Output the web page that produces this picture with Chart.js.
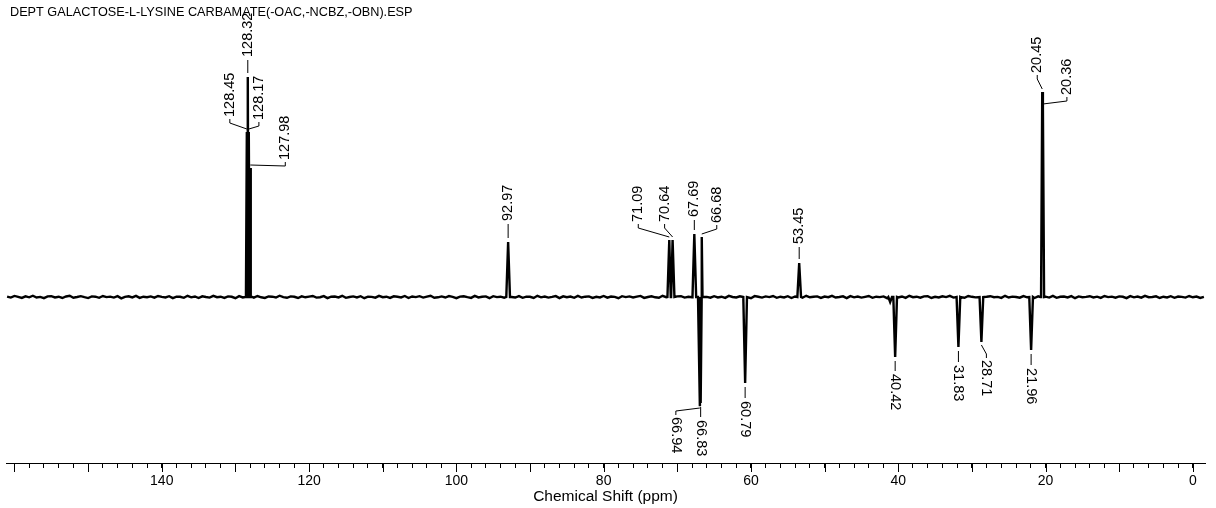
<!DOCTYPE html>
<html>
<head>
<meta charset="utf-8">
<script src="https://cdn.jsdelivr.net/npm/chart.js@4.4.1/dist/chart.umd.min.js"></script>
<style>
  html, body { margin: 0; padding: 0; background: #fff; }
  #wrap { width: 1216px; height: 508px; }
</style>
</head>
<body>
<div id="wrap"><canvas id="spectrum" width="1216" height="508"></canvas></div>
<script>
const chartTitle = 'DEPT GALACTOSE-L-LYSINE CARBAMATE(-OAC,-NCBZ,-OBN).ESP';
const axisTitle = 'Chemical Shift (ppm)';

// picked peaks (ppm) and their heights; negative = CH2 pointing down
const peakShifts  = [128.45, 128.32, 128.17, 127.98, 92.97, 71.09, 70.64, 67.69, 66.94, 66.83, 66.68, 60.79, 53.45, 40.42, 31.83, 28.71, 21.96, 20.45, 20.36];
const peakHeights = [165, 220, 165, 129, 55, 57, 57, 63, -108, -106, 60, -86, 34, -60, -50, -45, -53, 205, 190];
const peakLabels  = ['128.45', '128.32', '128.17', '127.98', '92.97', '71.09', '70.64', '67.69', '66.94', '66.83', '66.68', '60.79', '53.45', '40.42', '31.83', '28.71', '21.96', '20.45', '20.36'];

// small unlabelled dip next to 40.42
const minorShifts = [41.1];
const minorHeights = [-5];

// baseline noise read every 0.5 ppm, from 161 ppm down to -1.5 ppm
const noiseStart = 161;
const noiseStep = 0.5;
const noise = [
  0.4,-0.6,1.1,0.2,-0.9,0.7,-0.3,1.3,-0.5,0.1,-1.2,0.6,0.9,-0.4,0.3,-1.0,0.5,1.2,-0.7,0.0,
  0.8,-0.2,-1.1,0.6,0.3,-0.8,1.0,-0.1,0.4,-0.6,0.9,-1.3,0.2,0.7,-0.4,1.1,-0.9,0.3,-0.2,0.6,
  -0.7,1.0,0.1,-0.5,0.8,-1.1,0.4,0.2,-0.8,1.2,-0.3,0.5,-1.0,0.7,0.0,-0.6,1.1,-0.2,0.3,-0.9,
  0.6,0.2,-1.2,0.9,-0.4,0.1,0.8,-0.7,1.0,-0.3,-0.9,0.5,0.3,-0.5,1.3,-0.1,-0.8,0.6,0.2,-1.0,
  0.7,-0.3,0.4,1.0,-0.6,-0.2,0.9,-1.1,0.3,0.5,-0.4,1.2,-0.8,0.0,0.6,-0.5,0.8,-1.2,0.4,0.1,
  -0.7,1.1,-0.2,0.3,-0.9,0.7,0.2,-0.4,1.0,-1.0,0.5,-0.1,0.8,-0.6,0.3,1.2,-0.8,-0.3,0.6,-0.5,
  0.9,0.1,-1.1,0.4,0.7,-0.2,-0.9,1.1,-0.4,0.2,0.6,-1.2,0.8,-0.1,0.3,-0.7,1.0,0.0,-0.5,0.9,
  -0.8,0.4,0.2,-1.0,1.2,-0.3,0.5,-0.6,0.1,0.9,-1.1,0.7,-0.2,0.4,-0.8,1.1,-0.5,0.3,0.6,-0.9,
  0.2,-0.4,1.0,-0.7,0.5,0.1,-1.2,0.8,-0.1,0.6,-0.5,0.3,1.1,-0.9,0.0,0.7,-0.3,-0.8,1.2,-0.2,
  0.4,-1.0,0.6,0.9,-0.6,0.2,-0.3,1.0,-1.1,0.5,0.1,-0.7,0.8,-0.4,0.3,-0.9,1.1,0.0,-0.5,0.7,
  -0.2,0.4,-1.2,0.9,0.2,-0.6,0.6,-0.1,1.0,-0.8,0.3,-0.4,0.8,-1.0,0.5,0.1,-0.7,1.2,-0.3,0.2,
  0.6,-0.9,0.4,-0.2,1.1,-0.5,0.0,0.7,-1.1,0.9,-0.3,0.5,-0.6,0.2,1.0,-0.8,0.3,-0.1,0.6,-1.2,
  0.8,0.1,-0.4,0.5,-0.9,1.2,-0.2,0.3,-0.7,0.6,0.9,-1.0,0.2,-0.5,0.7,-0.1,1.1,-0.6,0.4,-0.3,
  -0.8,1.0,0.2,-0.4,0.6,-1.1,0.3,0.8,-0.2,0.1,-0.9,1.2,-0.5,0.4,0.0,-0.7,0.9,-0.3,0.5,-1.0,
  0.7,-0.1,0.3,-0.6,1.1,-0.8,0.2,0.5,-0.4,0.9,-1.2,0.6,-0.2,0.1,0.8,-0.5,0.3,-0.9,1.0,-0.1,
  0.4,-0.7,0.6,0.2,-1.1,0.9,-0.3,0.5,-0.6,1.2,-0.2,0.0,0.7,-1.0,0.3,-0.4,0.8,-0.8,0.5,0.1,
  -0.6,1.0,-0.3,0.4,-0.9,0.2
];

const xMin = -1.65;
const xMax = 161.15;
const tickStep = 2;
const labelEvery = 20;
const lastLabel = 140;

// where each peak label sits relative to its peak: dx sideways, gap between peak tip and text (px)
const labelLayout = {
  '128.45': { dx: -17, gap: 15 },
  '128.32': { dx: 0, gap: 20 },
  '128.17': { dx: 10, gap: 12 },
  '127.98': { dx: 35, gap: 8 },
  '92.97': { dx: 0, gap: 21 },
  '71.09': { dx: -31, gap: 18 },
  '70.64': { dx: -8, gap: 18 },
  '67.69': { dx: 0, gap: 17 },
  '66.68': { dx: 15, gap: 14 },
  '53.45': { dx: 0, gap: 19 },
  '20.45': { dx: -5, gap: 19 },
  '20.36': { dx: 24, gap: 12 },
  '66.94': { dx: -24, gap: 12 },
  '66.83': { dx: 0, gap: 17 },
  '60.79': { dx: 0, gap: 18 },
  '40.42': { dx: 0, gap: 17 },
  '31.83': { dx: 0, gap: 18 },
  '28.71': { dx: 5, gap: 18 },
  '21.96': { dx: 0, gap: 18 }
};

const fontFamily = 'Arial, "Liberation Sans", sans-serif';

function buildSpectrum() {
  const halfWidth = 0.25;
  const peaks = peakShifts.map((s, i) => [s, peakHeights[i]])
    .concat(minorShifts.map((s, i) => [s, minorHeights[i]]));
  const pts = [];
  noise.forEach((v, i) => {
    const ppm = noiseStart - i * noiseStep;
    if (peaks.some(p => Math.abs(p[0] - ppm) < halfWidth + 0.05)) return;
    pts.push({ x: ppm, y: v });
  });
  peaks.forEach(p => {
    pts.push({ x: p[0] + halfWidth, y: 0 }, { x: p[0], y: p[1] }, { x: p[0] - halfWidth, y: 0 });
  });
  pts.sort((a, b) => b.x - a.x);
  return pts;
}

const titlePlugin = {
  id: 'specTitle',
  afterDraw(chart) {
    const ctx = chart.ctx;
    ctx.save();
    ctx.fillStyle = '#000';
    ctx.font = '12.7px ' + fontFamily;
    ctx.textBaseline = 'middle';
    ctx.textAlign = 'left';
    ctx.fillText(chartTitle, 10, 12);
    ctx.restore();
  }
};

const majorTickPlugin = {
  id: 'majorTicks',
  afterDraw(chart) {
    const sx = chart.scales.x;
    const ctx = chart.ctx;
    ctx.save();
    ctx.strokeStyle = '#000';
    ctx.lineWidth = 1;
    sx.ticks.forEach(t => {
      if (Math.abs(t.value % 10) > 1e-6) return;
      const px = Math.round(sx.getPixelForValue(t.value)) + 0.5;
      ctx.beginPath();
      ctx.moveTo(px, sx.top);
      ctx.lineTo(px, sx.top + 9);
      ctx.stroke();
    });
    ctx.restore();
  }
};

const peakLabelPlugin = {
  id: 'peakLabels',
  afterDatasetsDraw(chart) {
    const { ctx } = chart;
    const sx = chart.scales.x, sy = chart.scales.y;
    ctx.save();
    ctx.fillStyle = '#000';
    ctx.strokeStyle = '#000';
    ctx.lineWidth = 1;
    ctx.font = '14.5px ' + fontFamily;
    ctx.textBaseline = 'middle';
    ctx.textAlign = 'left';
    peakShifts.forEach((s, i) => {
      const h = peakHeights[i];
      const dir = h > 0 ? -1 : 1;
      const lay = labelLayout[peakLabels[i]] || { dx: 0, gap: 18 };
      const px = sx.getPixelForValue(s);
      const py = sy.getPixelForValue(h);
      const tx = px + lay.dx;
      const textStart = py + dir * lay.gap;

      ctx.beginPath();
      if (lay.dx === 0) {
        ctx.moveTo(px, textStart - dir * 3);
        ctx.lineTo(px, py + dir * 4);
      } else {
        ctx.moveTo(tx, textStart - dir * 2);
        ctx.lineTo(tx, textStart - dir * 6);
        ctx.lineTo(px, py + dir * 3);
      }
      ctx.stroke();

      ctx.save();
      ctx.translate(tx, textStart);
      ctx.rotate(dir < 0 ? -Math.PI / 2 : Math.PI / 2);
      ctx.fillText(peakLabels[i], 0, 0);
      ctx.restore();
    });
    ctx.restore();
  }
};

document.addEventListener('DOMContentLoaded', function() {
  const ctx = document.getElementById('spectrum').getContext('2d');
  new Chart(ctx, {
    type: 'line',
    data: {
      datasets: [{
        data: buildSpectrum(),
        borderColor: '#000',
        borderWidth: 2.4,
        pointRadius: 0,
        tension: 0,
        fill: false
      }]
    },
    options: {
      responsive: false,
      animation: false,
      parsing: false,
      layout: { padding: { left: 6, right: 11, top: 20, bottom: 2 } },
      plugins: {
        legend: { display: false },
        tooltip: { enabled: false },
        title: { display: false }
      },
      scales: {
        x: {
          type: 'linear',
          reverse: true,
          min: xMin,
          max: xMax,
          afterFit: function(scale) { scale.height = 43; },
          border: { display: true, color: '#000', width: 1 },
          grid: { display: true, drawOnChartArea: false, drawTicks: true, tickLength: 5, tickColor: '#000', tickWidth: 1 },
          ticks: {
            stepSize: tickStep,
            autoSkip: false,
            maxRotation: 0,
            includeBounds: false,
            padding: 5,
            color: '#000',
            font: { family: fontFamily, size: 14 },
            callback: function(v) {
              const r = Math.round(v);
              if (Math.abs(v - r) > 1e-6) return '';
              return (r % labelEvery === 0 && r <= lastLabel) ? String(r) : '';
            }
          },
          title: {
            display: true,
            text: axisTitle,
            color: '#000',
            font: { family: fontFamily, size: 15.5 },
            padding: { top: 0, bottom: 0 }
          }
        },
        y: {
          display: false,
          min: -166,
          max: 277
        }
      }
    },
    plugins: [peakLabelPlugin, majorTickPlugin, titlePlugin]
  });
});
</script>
</body>
</html>
